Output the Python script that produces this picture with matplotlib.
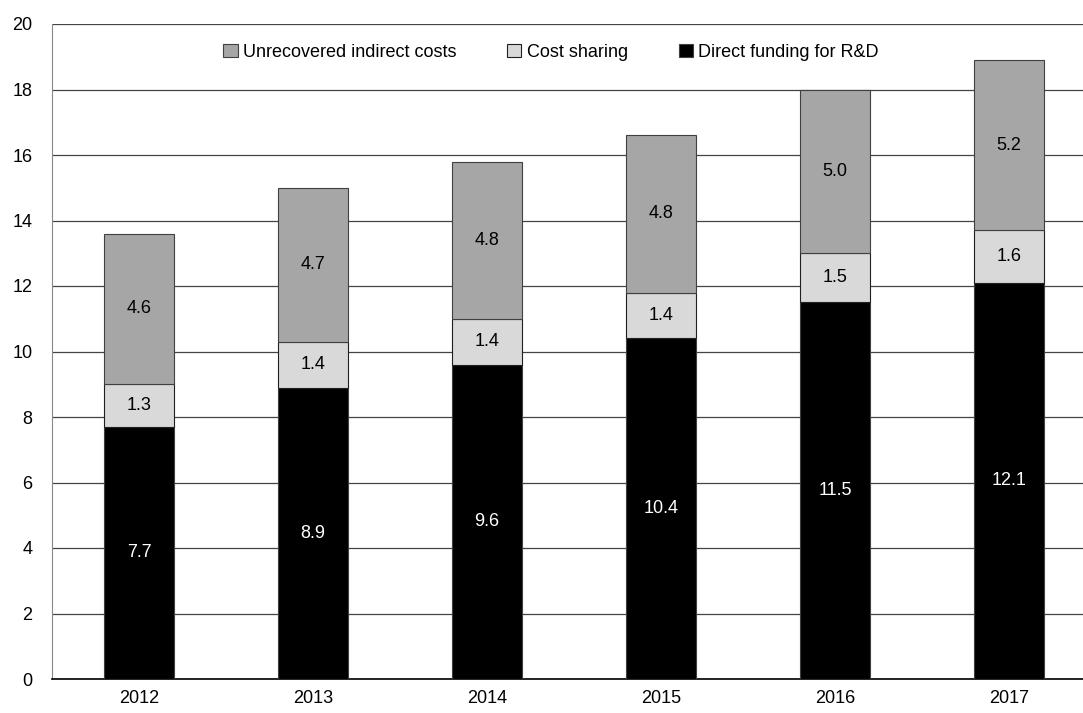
import matplotlib
matplotlib.use("Agg")
import matplotlib.pyplot as plt
import numpy as np

years = ["2012", "2013", "2014", "2015", "2016", "2017"]
direct = [7.7, 8.9, 9.6, 10.4, 11.5, 12.1]
cost_sharing = [1.3, 1.4, 1.4, 1.4, 1.5, 1.6]
indirect = [4.6, 4.7, 4.8, 4.8, 5.0, 5.2]

plt.rcParams['font.family'] = ['Liberation Sans Narrow', 'Liberation Sans', 'DejaVu Sans']
plt.rcParams['font.size'] = 13

fig = plt.figure(figsize=(10.83, 7.13), dpi=100)
ax = fig.add_axes([52/1083, 34/713, 1044/1083, 655/713])

x = np.arange(len(years))
w = 0.40
d = np.array(direct)
c = np.array(cost_sharing)
u = np.array(indirect)

ax.bar(x, d, w, color='black', edgecolor='#404040', linewidth=0.8,
       label='Direct funding for R&D', zorder=3)
ax.bar(x, c, w, bottom=d, color='#d9d9d9', edgecolor='#202020', linewidth=0.8,
       label='Cost sharing', zorder=3)
ax.bar(x, u, w, bottom=d + c, color='#a6a6a6', edgecolor='#404040', linewidth=0.8,
       label='Unrecovered indirect costs', zorder=3)

for i in range(len(years)):
    ax.text(x[i], d[i] / 2, f"{d[i]:.1f}", ha='center', va='center', color='white', zorder=4)
    ax.text(x[i], d[i] + c[i] / 2, f"{c[i]:.1f}", ha='center', va='center', color='black', zorder=4)
    ax.text(x[i], d[i] + c[i] + u[i] / 2, f"{u[i]:.1f}", ha='center', va='center', color='black', zorder=4)

ax.set_xlim(-0.5, 5.5)
ax.set_ylim(0, 20)
ax.set_yticks(range(0, 21, 2))
ax.set_xticks(x)
ax.set_xticklabels(years)
ax.yaxis.grid(True, color='#444444', linewidth=0.9, zorder=0)
ax.tick_params(axis='both', length=0, pad=8)
ax.tick_params(axis='y', pad=14)

for s in ['top', 'right']:
    ax.spines[s].set_visible(False)
ax.spines['left'].set_color('#888888')
ax.spines['bottom'].set_color('black')
ax.spines['bottom'].set_linewidth(1.2)

handles, labels = ax.get_legend_handles_labels()
leg = ax.legend(handles[::-1], labels[::-1], loc='upper center', bbox_to_anchor=(0.478, 0.995),
                ncol=3, frameon=False, handlelength=0.8, handleheight=0.8,
                handletextpad=0.3, columnspacing=2.8, fontsize=13)

fig.savefig("out.png", dpi=100)
